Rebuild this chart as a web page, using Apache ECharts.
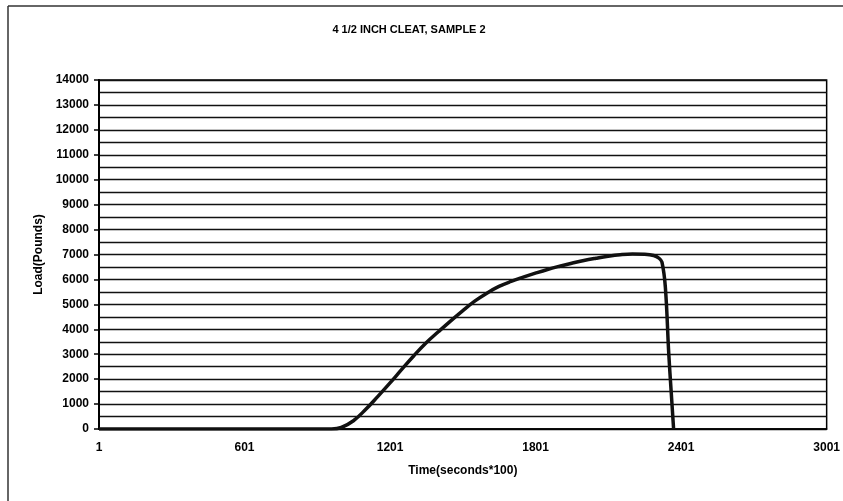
<!DOCTYPE html>
<html>
<head>
<meta charset="utf-8">
<script src="https://cdn.jsdelivr.net/npm/echarts@6/dist/echarts.min.js"></script>
<style>html,body{margin:0;padding:0;background:#fff;}#c{width:843px;height:501px;}</style>
</head>
<body>
<div id="c"></div>
<script>
const titleText = '4 1/2 INCH CLEAT, SAMPLE 2';
const xAxisName = 'Time(seconds*100)';
const yAxisName = 'Load(Pounds)';
const xTickLabels = [1, 601, 1201, 1801, 2401, 3001];
const timeValues = [1, 500, 900, 960, 1000, 1050, 1100, 1150, 1200, 1250, 1300, 1350, 1400, 1450, 1500, 1550, 1600, 1650, 1700, 1750, 1800, 1850, 1900, 1950, 2000, 2050, 2100, 2150, 2200, 2250, 2288, 2310, 2322, 2336, 2350, 2360, 2370];
const loadValues = [0, 0, 0, 0, 60, 330, 780, 1300, 1840, 2400, 2950, 3460, 3900, 4330, 4740, 5130, 5450, 5720, 5920, 6090, 6250, 6400, 6530, 6650, 6760, 6850, 6930, 6990, 7020, 7010, 6960, 6850, 6690, 5690, 3030, 1500, 0];

const seriesData = timeValues.map((t, i) => [t, loadValues[i]]);
const font = 'Liberation Sans, Arial, sans-serif';

const chart = echarts.init(document.getElementById('c'), null, {renderer: 'canvas'});
chart.setOption({
  animation: false,
  backgroundColor: '#fff',
  title: {
    text: titleText,
    left: 404, top: 19, textAlign: 'center',
    textStyle: {fontFamily: font, fontSize: 11, fontWeight: 'bold', color: '#000'}
  },
  grid: {
    left: 99, right: 15, top: 80, bottom: 72,
    show: true, borderColor: '#000', borderWidth: 1.5, backgroundColor: 'transparent'
  },
  xAxis: {
    type: 'value', min: 1, max: 3001,
    name: xAxisName, nameLocation: 'middle', nameGap: 36,
    nameTextStyle: {fontFamily: font, fontSize: 12, fontWeight: 'bold', color: '#000'},
    axisLine: {show: true, lineStyle: {color: '#000', width: 1.5}},
    axisTick: {show: false},
    splitLine: {show: false},
    axisLabel: {
      customValues: xTickLabels,
      formatter: v => String(v),
      margin: 13,
      fontFamily: font, fontSize: 12, fontWeight: 'bold', color: '#000'
    }
  },
  yAxis: {
    type: 'value', min: 0, max: 14000, interval: 1000,
    name: yAxisName, nameLocation: 'middle', nameGap: 48, nameRotate: 90,
    nameTextStyle: {fontFamily: font, fontSize: 12, fontWeight: 'bold', color: '#000'},
    axisLine: {show: true, lineStyle: {color: '#000', width: 2}},
    axisTick: {show: true, length: 5, lineStyle: {color: '#000', width: 1.5}},
    axisLabel: {margin: 10, formatter: v => String(v), fontFamily: font, fontSize: 12, fontWeight: 'bold', color: '#000'},
    splitLine: {show: true, lineStyle: {color: '#111', width: 1.4}},
    minorTick: {show: false, splitNumber: 2},
    minorSplitLine: {show: true, lineStyle: {color: '#111', width: 1.4}}
  },
  graphic: [
    {type: 'line', shape: {x1: 8, y1: 6, x2: 843, y2: 6}, style: {stroke: '#333', lineWidth: 1.5}},
    {type: 'line', shape: {x1: 8, y1: 6, x2: 8, y2: 501}, style: {stroke: '#333', lineWidth: 1.5}}
  ],
  series: [{
    type: 'line',
    data: seriesData,
    showSymbol: false,
    smooth: 0.4,
    lineStyle: {color: '#111', width: 3.5},
    itemStyle: {color: '#111'}
  }]
});
</script>
</body>
</html>
